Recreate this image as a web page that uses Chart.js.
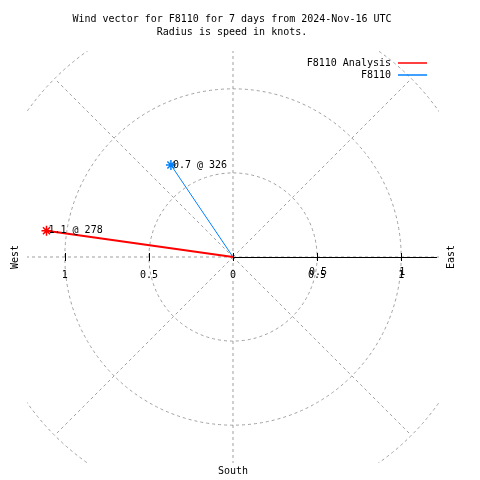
<!DOCTYPE html>
<html>
<head>
<meta charset="utf-8">
<script src="https://cdn.jsdelivr.net/npm/chart.js@4/dist/chart.umd.min.js"></script>
<style>
  body { margin: 0; background: #fff; }
  #wrap { width: 480px; height: 480px; }
</style>
</head>
<body>
<div id="wrap"><canvas id="wind-chart" width="480" height="480"></canvas></div>
<script>
// series: wind speed (knots) and direction (degrees)
const seriesNames = ['F8110 Analysis', 'F8110'];
const seriesColors = ['#ff0000', '#0080ff'];
const speeds = [1.12, 0.66];
const directions = [278, 326];

// polar grid
const gridRadii = [0.5, 1, 1.5];
const spokeAngles = [0, 45, 90, 135, 180, 225, 270, 315];
const tickValues = [-1, -0.5, 0, 0.5, 1];
const tickLabels = ['1', '0.5', '0', '0.5', '1'];

const RANGE = 1.225;
const FONT = '10px "DejaVu Sans Mono", "Liberation Mono", monospace';

function toXY(speed, dir) {
    const a = dir * Math.PI / 180;
    return { x: speed * Math.sin(a), y: speed * Math.cos(a) };
}

const datasets = speeds.map((s, i) => ({
    label: seriesNames[i],
    data: [{ x: 0, y: 0 }, toXY(s, directions[i])],
    showLine: true,
    borderColor: seriesColors[i],
    backgroundColor: seriesColors[i],
    borderWidth: i === 0 ? 2 : 1,
    pointStyle: 'star',
    pointRadius: [0, 5],
    pointBorderWidth: 1.5,
    pointBorderColor: seriesColors[i]
}));

const polarGrid = {
    id: 'polarGrid',
    beforeDatasetsDraw(chart) {
        const { ctx, chartArea: a, scales: { x, y } } = chart;
        const cx = x.getPixelForValue(0), cy = y.getPixelForValue(0);
        const unit = x.getPixelForValue(1) - cx;
        ctx.save();
        ctx.beginPath();
        ctx.rect(a.left, a.top, a.right - a.left, a.bottom - a.top);
        ctx.clip();
        ctx.strokeStyle = '#a0a0a0';
        ctx.lineWidth = 1;
        ctx.setLineDash([3, 3]);
        gridRadii.forEach(r => {
            ctx.beginPath();
            ctx.arc(cx, cy, r * unit, 0, Math.PI * 2);
            ctx.stroke();
        });
        const rMax = gridRadii[gridRadii.length - 1];
        spokeAngles.forEach(d => {
            const p = toXY(rMax, d);
            ctx.beginPath();
            ctx.moveTo(cx, cy);
            ctx.lineTo(x.getPixelForValue(p.x), y.getPixelForValue(p.y));
            ctx.stroke();
        });
        ctx.restore();

        // polar axis
        ctx.save();
        ctx.strokeStyle = '#000';
        ctx.lineWidth = 1;
        ctx.beginPath();
        ctx.moveTo(cx, cy + 0.5);
        ctx.lineTo(x.getPixelForValue(RANGE) - 2, cy + 0.5);
        ctx.stroke();
        tickValues.forEach(v => {
            const px = Math.round(x.getPixelForValue(v)) + 0.5;
            ctx.beginPath();
            ctx.moveTo(px, cy - 4);
            ctx.lineTo(px, cy + 4);
            ctx.stroke();
        });
        ctx.restore();
    },
    afterDraw(chart) {
        const { ctx, scales: { x, y } } = chart;
        const cx = x.getPixelForValue(0), cy = y.getPixelForValue(0);
        ctx.save();
        ctx.fillStyle = '#000';
        ctx.font = FONT;
        ctx.textBaseline = 'middle';

        // title
        ctx.textAlign = 'center';
        ctx.fillText('Wind vector for F8110 for 7 days from 2024-Nov-16 UTC', 232, 19);
        ctx.fillText('Radius is speed in knots.', 232, 32);

        // tick labels
        tickValues.forEach((v, i) => {
            const px = x.getPixelForValue(v);
            ctx.fillText(tickLabels[i], px, cy + 18);
            if (v > 0) ctx.fillText(tickLabels[i], px + 1, cy + 15);
        });

        // compass labels
        ctx.fillText('South', cx, 471);
        [['West', 15], ['East', 451]].forEach(([t, px]) => {
            ctx.save();
            ctx.translate(px, cy);
            ctx.rotate(-Math.PI / 2);
            ctx.fillText(t, 0, 0);
            ctx.restore();
        });

        // legend
        ctx.textAlign = 'right';
        seriesNames.forEach((n, i) => {
            const ly = 63 + i * 12;
            ctx.fillText(n, 391, ly);
            ctx.strokeStyle = seriesColors[i];
            ctx.lineWidth = 1.5;
            ctx.beginPath();
            ctx.moveTo(398, ly);
            ctx.lineTo(427, ly);
            ctx.stroke();
        });

        // point labels
        ctx.textAlign = 'left';
        speeds.forEach((s, i) => {
            const p = toXY(s, directions[i]);
            const px = x.getPixelForValue(p.x), py = y.getPixelForValue(p.y);
            ctx.fillText(s.toFixed(1) + ' @ ' + directions[i], px + 2, py);
        });
        ctx.restore();
    }
};

new Chart(document.getElementById('wind-chart').getContext('2d'), {
    type: 'scatter',
    data: { datasets: datasets },
    options: {
        responsive: false,
        animation: false,
        layout: { padding: { left: 27, right: 41, top: 51, bottom: 17 } },
        scales: {
            x: { type: 'linear', min: -RANGE, max: RANGE, display: false },
            y: { type: 'linear', min: -RANGE, max: RANGE, display: false }
        },
        plugins: {
            legend: { display: false },
            title: { display: false },
            tooltip: { enabled: false }
        }
    },
    plugins: [polarGrid]
});
</script>
</body>
</html>
